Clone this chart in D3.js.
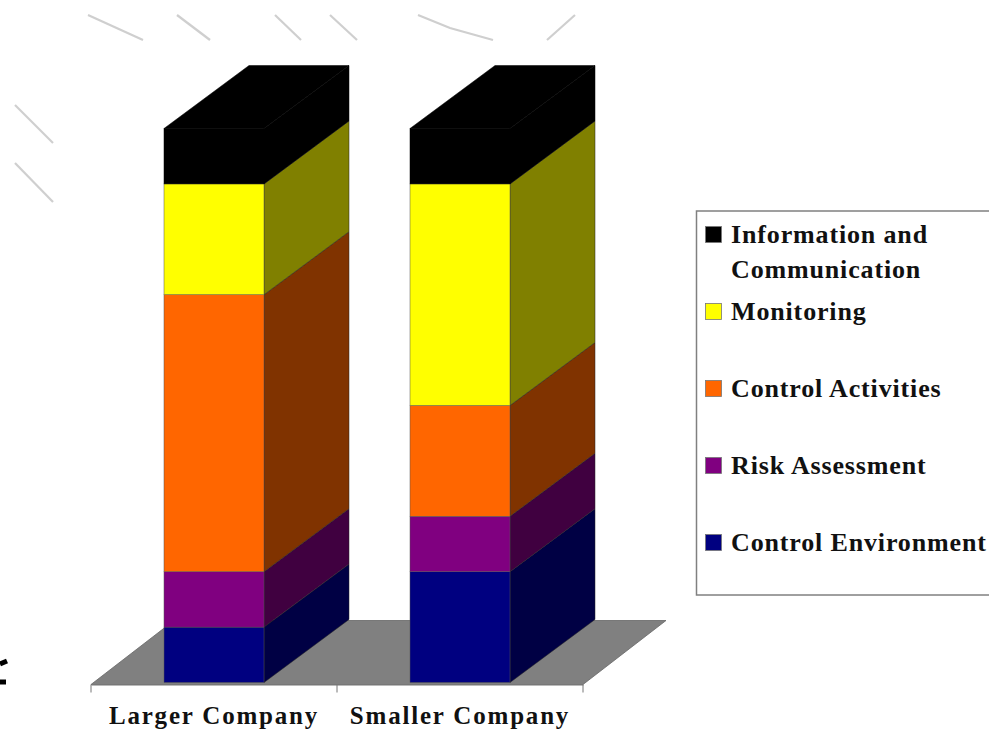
<!DOCTYPE html>
<html>
<head>
<meta charset="utf-8">
<style>
  html, body { margin: 0; padding: 0; background: #fff; }
  svg { display: block; }
  text { font-family: "Liberation Serif", serif; font-weight: bold; fill: #111; }
</style>
<script src="https://cdn.jsdelivr.net/npm/d3@7/dist/d3.min.js"></script>
</head>
<body>
<svg id="chart" width="989" height="731"></svg>
<script>
// Stacked values per company, bottom to top
const categories = ["Larger Company", "Smaller Company"];
const components = ["Control Environment", "Risk Assessment", "Control Activities", "Monitoring", "Information and Communication"];
const largerCompany = [1, 1, 5, 2, 1];
const smallerCompany = [2, 1, 2, 4, 1];
const frontColors = ["#000080", "#800080", "#ff6600", "#ffff00", "#000000"];
const sideColors = ["#000044", "#400040", "#803300", "#808000", "#000000"];

// Faint leftover strokes and the clipped glyph fragment along the page edges
const faintStrokes = [
  [88, 15, 143, 40], [177, 15, 210, 40], [275, 15, 301, 40], [330, 15, 357, 40],
  [418, 15, 450, 28, 493, 40], [575, 15, 547, 40], [15, 105, 53, 143], [15, 163, 53, 202]
];
const edgeFragments = [[0, 664, 7, 661], [0, 682, 6, 682]];

const svg = d3.select("#chart");
const depth = { x: 85, y: -63 };
const floorDepth = { x: 83, y: -64 };
const barWidth = 100;
const rows = [largerCompany, smallerCompany];

const x = d3.scaleBand().domain(categories).range([91, 583]);
const y = d3.scaleLinear().domain([0, 10]).range([682.5, 128.5]);
const floorY = 684.5;

const lineGen = d3.line();
const pairs = a => d3.range(0, a.length, 2).map(i => [a[i], a[i + 1]]);

svg.append("g").selectAll("path").data(faintStrokes).join("path")
  .attr("d", d => lineGen(pairs(d)))
  .attr("fill", "none").attr("stroke", "#cfcfcf").attr("stroke-width", 2.2);

svg.append("g").selectAll("path").data(edgeFragments).join("path")
  .attr("d", d => lineGen(pairs(d)))
  .attr("fill", "none").attr("stroke", "#000").attr("stroke-width", 5);

// Floor of the 3D plot, under the columns
const [x0, x1] = x.range();
svg.append("path")
  .attr("d", lineGen([[x0, floorY], [x1, floorY], [x1 + floorDepth.x, floorY + floorDepth.y], [x0 + floorDepth.x, floorY + floorDepth.y]]) + "Z")
  .attr("fill", "#808080").attr("stroke", "#666").attr("stroke-width", 0.8);

// Category axis: labels from the band scale, ticks at the band edges
const axis = svg.append("g").attr("transform", `translate(0,${floorY})`)
  .call(d3.axisBottom(x).tickSize(0).tickPadding(22));
axis.select(".domain").attr("stroke", "#777").attr("stroke-width", 1);
axis.selectAll("text").attr("font-size", 25).attr("font-family", "Liberation Serif").attr("font-weight", "bold").attr("fill", "#111").attr("letter-spacing", 1.8);
axis.selectAll(".edge").data([x0, x0 + x.step(), x1]).join("line")
  .attr("class", "edge").attr("x1", d => d).attr("x2", d => d)
  .attr("y1", 0).attr("y2", 8).attr("stroke", "#777").attr("stroke-width", 1);

// Stacked 3D columns
categories.forEach((cat, c) => {
  const g = svg.append("g");
  const left = Math.floor(x(cat) + (x.bandwidth() - barWidth) / 2);
  const right = left + barWidth;
  const stops = d3.cumsum(rows[c]);
  rows[c].forEach((v, i) => {
    const yb = y(i === 0 ? 0 : stops[i - 1]);
    const yt = y(stops[i]);
    const isTop = i === rows[c].length - 1;
    g.append("path")
      .attr("d", lineGen([[right, yb], [right + depth.x, yb + depth.y], [right + depth.x, yt + depth.y], [right, yt]]) + "Z")
      .attr("fill", sideColors[i]).attr("stroke", isTop ? "#000" : "#222").attr("stroke-width", 0.5);
    g.append("rect")
      .attr("x", left).attr("y", yt).attr("width", barWidth).attr("height", yb - yt)
      .attr("fill", frontColors[i]).attr("stroke", isTop ? "#000" : "#555").attr("stroke-width", 0.5);
  });
  const top = y(stops[stops.length - 1]);
  g.append("path")
    .attr("d", lineGen([[left, top], [right, top], [right + depth.x, top + depth.y], [left + depth.x, top + depth.y]]) + "Z")
    .attr("fill", frontColors[frontColors.length - 1]).attr("stroke", "#000").attr("stroke-width", 0.5);
});

// Legend, listed top to bottom in reverse stack order; its box runs off the right edge
svg.append("rect")
  .attr("x", 696.5).attr("y", 211).attr("width", 320).attr("height", 384)
  .attr("fill", "#fff").attr("stroke", "#808080").attr("stroke-width", 1.5);

const legendRows = d3.range(components.length).reverse();
const legendY = d3.scalePoint().domain(legendRows).range([235, 543]);
const legendLines = { 4: ["Information and", "Communication"] };

const legend = svg.append("g").selectAll("g").data(legendRows).join("g")
  .attr("transform", d => `translate(0,${legendY(d)})`);
legend.append("rect")
  .attr("x", 705.5).attr("y", -8.5).attr("width", 16).attr("height", 16)
  .attr("fill", d => frontColors[d]).attr("stroke", "#777").attr("stroke-width", 0.8);
legend.each(function (d) {
  const lines = legendLines[d] || [components[d]];
  d3.select(this).selectAll("text").data(lines).join("text")
    .attr("x", 731).attr("y", (t, i) => 8 + i * 35)
    .attr("font-size", 26).attr("letter-spacing", 0.85)
    .text(t => t);
});
</script>
</body>
</html>
